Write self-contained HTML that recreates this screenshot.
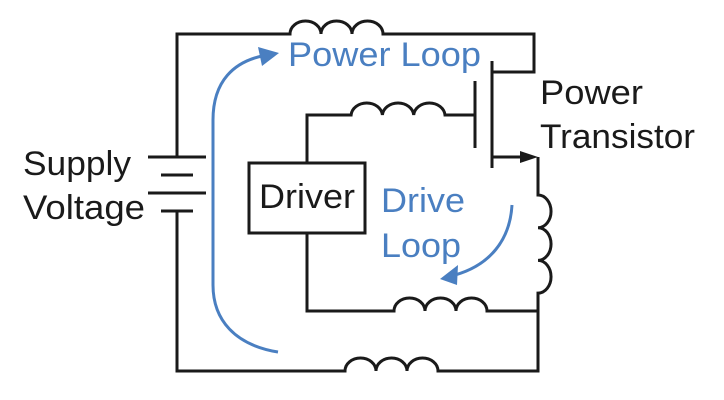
<!DOCTYPE html>
<html><head><meta charset="utf-8"><style>
html,body{margin:0;padding:0;background:#fff;}
svg{display:block;}
text{font-family:"Liberation Sans",sans-serif;}
</style></head><body>
<svg width="724" height="400" viewBox="0 0 724 400" xmlns="http://www.w3.org/2000/svg">
<g fill="none" stroke="#1a1a1a" stroke-width="3">
<path d="M177 157 V34 H290 a15.5 13 0 0 1 31 0 a15.5 13 0 0 1 31 0 a15.5 13 0 0 1 31 0 H534 V72 H492"/>
<path d="M492 61 V168"/>
<path d="M475 81 V148"/>
<path d="M475 115 H445 a15.7 13 0 0 0 -31.3 0 a15.7 13 0 0 0 -31.3 0 a15.7 13 0 0 0 -31.3 0 H307 V163"/>
<path d="M492 157 H524"/>
<path d="M538 157 V195 a13 16.3 0 0 1 0 32.7 a13 16.3 0 0 1 0 32.7 a13 16.3 0 0 1 0 32.7 V371 H438 a15.5 13 0 0 0 -31 0 a15.5 13 0 0 0 -31 0 a15.5 13 0 0 0 -31 0 H177 V211"/>
<path d="M307 233 V311 H394 a15.5 13 0 0 1 31 0 a15.5 13 0 0 1 31 0 a15.5 13 0 0 1 31 0 H538"/>
<rect x="249" y="163" width="116" height="70"/>
<path d="M148 157 H206 M161 175 H193 M148 193 H206 M161 211 H193"/>
</g>
<polygon points="538,157 520,151 520,163" fill="#1a1a1a"/>
<g fill="none" stroke="#4a7fc1" stroke-width="3">
<path d="M278 352 C235 345 213 320 213 285 V120 C213 80 235 62 262 56"/>
<path d="M512 205 C510 240 490 265 455 275"/>
</g>
<polygon points="279,53 258,47 262,66" fill="#4a7fc1"/>
<polygon points="440,279 458,265 457,285" fill="#4a7fc1"/>
<g font-size="34" fill="#1a1a1a">
<text x="23" y="175" textLength="108" lengthAdjust="spacingAndGlyphs">Supply</text>
<text x="23" y="219" textLength="122" lengthAdjust="spacingAndGlyphs">Voltage</text>
<text x="540" y="104" textLength="103" lengthAdjust="spacingAndGlyphs">Power</text>
<text x="540" y="148" textLength="155" lengthAdjust="spacingAndGlyphs">Transistor</text>
<text x="259" y="208" textLength="96" lengthAdjust="spacingAndGlyphs">Driver</text>
</g>
<g font-size="34" fill="#4a7fc1">
<text x="288" y="66" textLength="193" lengthAdjust="spacingAndGlyphs">Power Loop</text>
<text x="381" y="212" textLength="84" lengthAdjust="spacingAndGlyphs">Drive</text>
<text x="381" y="257" textLength="80" lengthAdjust="spacingAndGlyphs">Loop</text>
</g>
</svg>
</body></html>
